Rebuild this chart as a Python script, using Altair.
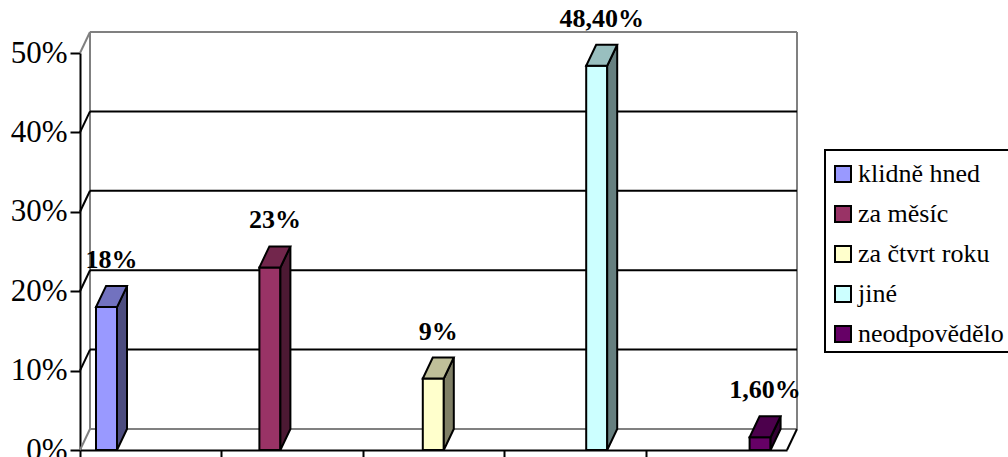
import altair as alt
import pandas as pd

# ---- data ----
series = ["klidně hned", "za měsíc", "za čtvrt roku", "jiné", "neodpovědělo"]
values = [18, 23, 9, 48.4, 1.6]
value_labels = ["18%", "23%", "9%", "48,40%", "1,60%"]
front_colors = ["#9999FF", "#993366", "#FFFFCC", "#CCFFFF", "#660066"]
y_ticks = [0, 10, 20, 30, 40, 50]
grid_black = [10, 20, 30, 40]
grid_gray = [0, 50]

# ---- layout ----
W, H = 707, 397
N = len(series)
Y_MAX = 50
DEPTH_X_PX, DEPTH_Y_PX = 10, 21
GROUP_PAD_PX, SLOT_PX, BAR_PX = 16, 22, 21
FONT = "Liberation Serif"
GRAY = "#808080"

cat_px = W / N
ux = 1 / cat_px          # data units per px (x)
uy = Y_MAX / H           # data units per px (y)
ddx = DEPTH_X_PX * ux
ddy = DEPTH_Y_PX * uy


def shade(hexc, f):
    h = hexc.lstrip("#")
    r, g, b = (int(h[k:k + 2], 16) for k in (0, 2, 4))
    return "#%02x%02x%02x" % (int(r * f), int(g * f), int(b * f))


bars, side_rows, top_rows = [], [], []
for i, (s, v, lab, c) in enumerate(zip(series, values, value_labels, front_colors)):
    x0 = i + (GROUP_PAD_PX + SLOT_PX * i) * ux
    x1 = x0 + BAR_PX * ux
    bars.append(dict(series=s, value=v, zero=0, x0=x0, x1=x1, label=lab,
                     lx=(x0 + x1) / 2 + ddx / 2, ly=v + ddy))
    side_rows += [dict(sname=s, px=x1, py=v, py2=0, col=shade(c, 0.5)),
                  dict(sname=s, px=x1 + ddx, py=v + ddy, py2=ddy, col=shade(c, 0.5))]
    top_rows += [dict(sname=s, py=v, px=x0, px2=x1, col=shade(c, 0.75)),
                 dict(sname=s, py=v + ddy, px=x0 + ddx, px2=x1 + ddx, col=shade(c, 0.75))]

bars = pd.DataFrame(bars)
side = pd.DataFrame(side_rows)
top = pd.DataFrame(top_rows)

xscale = alt.Scale(domain=[0, N], nice=False, zero=False)
yscale = alt.Scale(domain=[0, Y_MAX], nice=False)
xaxis = alt.Axis(values=list(range(N)), labels=False, title=None, grid=False,
                 tickSize=8, tickWidth=2, tickColor="black",
                 domainColor="black", domainWidth=2)
yaxis = alt.Axis(values=y_ticks, labelExpr="datum.value + '%'", title=None, grid=False,
                 labelFont=FONT, labelFontSize=31, labelColor="black", labelPadding=3,
                 tickSize=10, tickWidth=2, tickColor="black",
                 domainColor="black", domainWidth=2)


def X(f):
    return alt.X(f, type="quantitative", scale=xscale, axis=xaxis)


def Y(f):
    return alt.Y(f, type="quantitative", scale=yscale, axis=yaxis)


def hlines(vals, color):
    df = pd.DataFrame({"yv": vals, "a": 0, "b": N})
    return alt.Chart(df).mark_rule(color=color, strokeWidth=2, xOffset=DEPTH_X_PX,
                                   x2Offset=DEPTH_X_PX, yOffset=-DEPTH_Y_PX).encode(
        y=Y("yv"), x=X("a"), x2="b")


def slants(vals, color, at=0):
    df = pd.DataFrame({"yv": vals, "a": at})
    return alt.Chart(df).mark_rule(color=color, strokeWidth=2, x2Offset=DEPTH_X_PX,
                                   y2Offset=-DEPTH_Y_PX).encode(
        x=X("a"), x2="a", y=Y("yv"), y2="yv")


walls = alt.Chart(pd.DataFrame({"xv": [0, N], "lo": 0, "hi": Y_MAX})).mark_rule(
    color=GRAY, strokeWidth=2, xOffset=DEPTH_X_PX, yOffset=-DEPTH_Y_PX, y2Offset=-DEPTH_Y_PX
).encode(x=X("xv"), y=Y("lo"), y2="hi")

side_layer = alt.Chart(side).mark_area(orient="vertical", stroke="black", strokeWidth=2,
                                       interpolate="linear", line=False).encode(
    x=alt.X("px", type="quantitative", scale=xscale, axis=xaxis, stack=None),
    y=alt.Y("py", type="quantitative", scale=yscale, axis=yaxis, stack=None),
    y2="py2", detail="sname:N",
    fill=alt.Fill("col:N", scale=None, legend=None))

top_layer = alt.Chart(top).mark_area(orient="horizontal", stroke="black", strokeWidth=2,
                                     interpolate="linear", line=False).encode(
    y=alt.Y("py", type="quantitative", scale=yscale, axis=yaxis, stack=None),
    x=alt.X("px", type="quantitative", scale=xscale, axis=xaxis, stack=None),
    x2="px2", detail="sname:N",
    fill=alt.Fill("col:N", scale=None, legend=None))

front_layer = alt.Chart(bars).mark_bar(stroke="black", strokeWidth=2).encode(
    x=X("x0"), x2="x1", y=Y("value"), y2="zero",
    color=alt.Color("series:N", scale=alt.Scale(domain=series, range=front_colors),
                    legend=alt.Legend(title=" ", titleFontSize=1, titlePadding=5,
                                      orient="none", legendX=745, legendY=97,
                                      strokeColor="black", padding=5,
                                      symbolType="square", symbolSize=256,
                                      symbolStrokeColor="black", symbolStrokeWidth=2,
                                      labelFont=FONT, labelFontSize=26, labelColor="black",
                                      labelOffset=2, rowPadding=14, labelLimit=300)))

text_layer = alt.Chart(bars).mark_text(font=FONT, fontSize=26, fontWeight="bold",
                                       baseline="alphabetic", align="center", dy=-18,
                                       color="black").encode(
    x=X("lx"), y=Y("ly"), text="label:N")

chart = alt.layer(
    hlines(grid_gray, GRAY), walls, hlines(grid_black, "black"),
    slants(grid_black, "black"), slants(grid_gray, GRAY), slants([0], "black", at=N),
    front_layer, side_layer, top_layer, text_layer
).properties(
    width=W, height=H,
    padding={"left": 80, "top": 53, "right": 1008 - 80 - W, "bottom": 457 - 53 - H},
    autosize=alt.AutoSizeParams(type="none"),
).configure_view(stroke=None).configure_legend(strokeWidth=2)

chart.save("out.html", embed_options={"renderer": "svg", "actions": False})
